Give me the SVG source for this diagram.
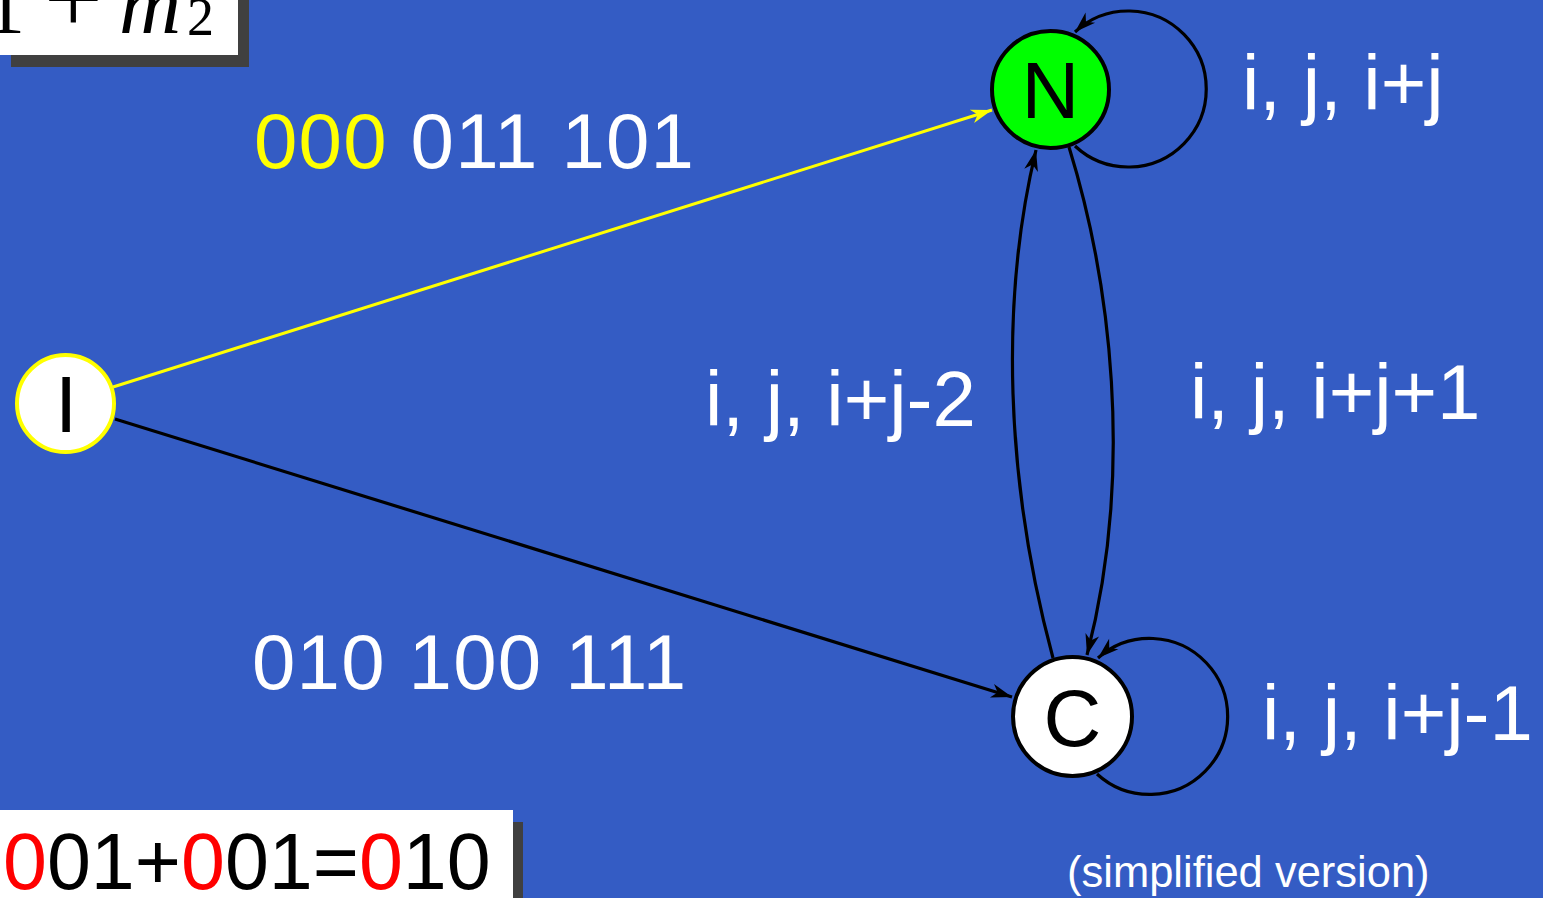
<svg xmlns="http://www.w3.org/2000/svg" width="1543" height="898" viewBox="0 0 1543 898">
  <style>
    .lbl { font-family: "Liberation Sans", Arial, sans-serif; font-size: 78px; fill: #ffffff; }
    .num { letter-spacing: 1.2px; }
    .nodetxt { font-family: "Liberation Sans", Arial, sans-serif; font-size: 80px; fill: #000000; text-anchor: middle; }
    .edge { fill: none; stroke: #000000; stroke-width: 3.2; }
    .shadow { fill: #404040; }
    .box { fill: #ffffff; }
  </style>
  <defs>
    <marker id="ah" markerUnits="userSpaceOnUse" markerWidth="30" markerHeight="20" viewBox="-22 -10 24 20" refX="0" refY="0" orient="auto">
      <path d="M0,0 L-21,-7 L-15,0 L-21,7 Z" fill="#000000"/>
    </marker>
    <marker id="ahy" markerUnits="userSpaceOnUse" markerWidth="30" markerHeight="20" viewBox="-22 -10 24 20" refX="0" refY="0" orient="auto">
      <path d="M0,0 L-21,-7 L-15,0 L-21,7 Z" fill="#ffff00"/>
    </marker>
  </defs>

  <rect x="0" y="0" width="1543" height="898" fill="#345cc4"/>

  <!-- top-left formula box -->
  <g id="formula-top">
    <rect class="shadow" x="11" y="0" width="238" height="67"/>
    <rect class="box" x="0" y="0" width="238" height="55"/>
    <text font-family="'Liberation Serif', 'Times New Roman', serif" font-size="80" fill="#000000"><tspan x="-15" y="33">1</tspan><tspan x="44" y="33" font-size="104">+</tspan><tspan x="119" y="33" font-size="86" font-style="italic">m</tspan><tspan x="187" y="35" font-size="54">2</tspan></text>
  </g>

  <!-- bottom-left formula box -->
  <g id="formula-bottom">
    <rect class="shadow" x="11" y="822" width="512" height="76"/>
    <rect class="box" x="0" y="810" width="513" height="88"/>
    <text x="3" y="889" font-family="'Liberation Sans', Arial, sans-serif" font-size="79" fill="#000000"><tspan fill="#ff0000">0</tspan>01+<tspan fill="#ff0000">0</tspan>01=<tspan fill="#ff0000">0</tspan>10</text>
  </g>

  <!-- connectors -->
  <g id="connectors">
    <path d="M113,387 L992,110" fill="none" stroke="#ffff00" stroke-width="3" marker-end="url(#ahy)"/>
    <path class="edge" d="M115,419 L1012,697" marker-end="url(#ah)"/>
    <path class="edge" d="M1069,147 C1110,280 1135,470 1087,655" marker-end="url(#ah)"/>
    <path class="edge" d="M1053,658 C1005,480 1000,300 1036,150" marker-end="url(#ah)"/>
    <path class="edge" d="M1075,146 A78,78 0 1 0 1075,32" marker-end="url(#ah)"/>
    <path class="edge" d="M1097,774 A78,78 0 1 0 1098,658" marker-end="url(#ah)"/>
  </g>

  <!-- edge labels -->
  <g id="labels">
    <text class="lbl num" x="254" y="168"><tspan fill="#ffff00">000</tspan> 011 101</text>
    <text class="lbl num" x="252" y="689">010 100 111</text>
    <text class="lbl" x="1242" y="110">i, j, i+j</text>
    <text class="lbl" x="705" y="426">i, j, i+j-2</text>
    <text class="lbl" x="1190" y="419">i, j, i+j+1</text>
    <text class="lbl" x="1262" y="740">i, j, i+j-1</text>
    <text x="1067" y="887" font-family="'Liberation Sans', Arial, sans-serif" font-size="43.5" fill="#ffffff">(simplified version)</text>
  </g>

  <!-- nodes -->
  <g id="node-I">
    <circle cx="65.5" cy="403.5" r="48.5" fill="#ffffff" stroke="#ffff00" stroke-width="4"/>
    <text class="nodetxt" x="66" y="432">I</text>
  </g>
  <g id="node-N">
    <circle cx="1050.5" cy="89.5" r="58.5" fill="#00ff00" stroke="#000000" stroke-width="4"/>
    <text class="nodetxt" x="1050.5" y="118">N</text>
  </g>
  <g id="node-C">
    <circle cx="1072.5" cy="716.5" r="59.5" fill="#ffffff" stroke="#000000" stroke-width="4"/>
    <text class="nodetxt" x="1072.5" y="746">C</text>
  </g>
</svg>
